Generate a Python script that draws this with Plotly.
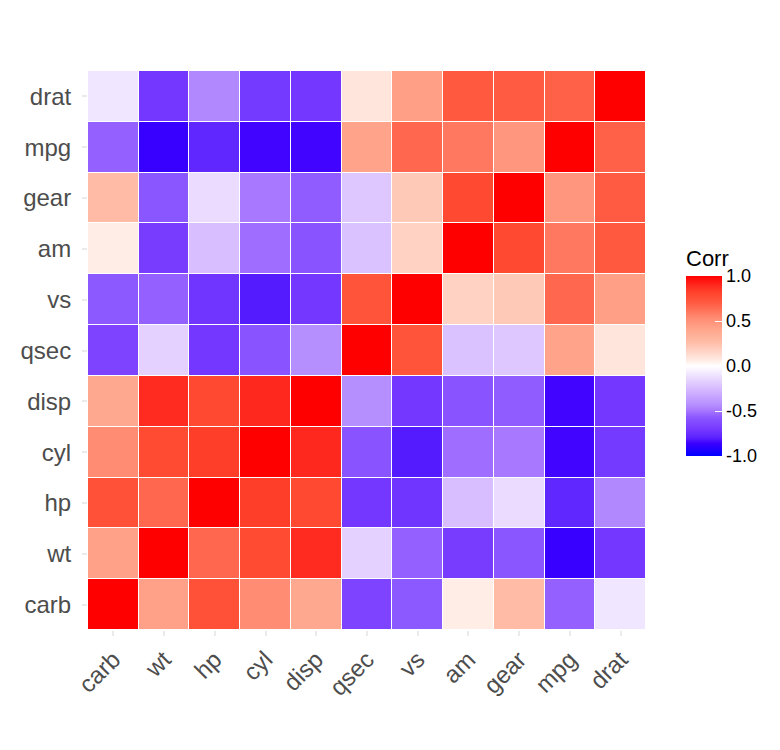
import plotly.graph_objects as go

variables = ["carb", "wt", "hp", "cyl", "disp", "qsec", "vs", "am", "gear", "mpg", "drat"]

carb = [1.00, 0.43, 0.75, 0.53, 0.39, -0.66, -0.57, 0.06, 0.27, -0.55, -0.09]
wt   = [0.43, 1.00, 0.66, 0.78, 0.89, -0.17, -0.55, -0.69, -0.58, -0.87, -0.71]
hp   = [0.75, 0.66, 1.00, 0.83, 0.79, -0.71, -0.72, -0.24, -0.13, -0.78, -0.45]
cyl  = [0.53, 0.78, 0.83, 1.00, 0.90, -0.59, -0.81, -0.52, -0.49, -0.85, -0.70]
disp = [0.39, 0.89, 0.79, 0.90, 1.00, -0.43, -0.71, -0.59, -0.56, -0.85, -0.71]
qsec = [-0.66, -0.17, -0.71, -0.59, -0.43, 1.00, 0.74, -0.23, -0.21, 0.42, 0.09]
vs   = [-0.57, -0.55, -0.72, -0.81, -0.71, 0.74, 1.00, 0.17, 0.21, 0.66, 0.44]
am   = [0.06, -0.69, -0.24, -0.52, -0.59, -0.23, 0.17, 1.00, 0.79, 0.60, 0.71]
gear = [0.27, -0.58, -0.13, -0.49, -0.56, -0.21, 0.21, 0.79, 1.00, 0.48, 0.70]
mpg  = [-0.55, -0.87, -0.78, -0.85, -0.85, 0.42, 0.66, 0.60, 0.48, 1.00, 0.68]
drat = [-0.09, -0.71, -0.45, -0.70, -0.71, 0.09, 0.44, 0.71, 0.70, 0.68, 1.00]

rows = [carb, wt, hp, cyl, disp, qsec, vs, am, gear, mpg, drat]

colorbar_ticks = [-1.0, -0.5, 0.0, 0.5, 1.0]
colorbar_labels = ["-1.0", "-0.5", "0.0", "0.5", "1.0"]

# colour stops (value -> colour), blue - white - red
scale_values = [-1.00, -0.86, -0.795, -0.69, -0.57, -0.505, -0.44, -0.22, -0.11, 0.00,
                0.075, 0.27, 0.41, 0.53, 0.705, 0.805, 0.90, 1.00]
scale_colors = ["rgb(0,0,255)", "rgb(60,0,255)", "rgb(92,35,255)", "rgb(120,60,255)",
                "rgb(140,88,255)", "rgb(165,115,255)", "rgb(180,140,255)", "rgb(220,195,255)",
                "rgb(238,225,255)", "rgb(255,255,255)", "rgb(255,232,224)", "rgb(255,187,165)",
                "rgb(255,165,140)", "rgb(255,140,115)", "rgb(255,90,65)", "rgb(255,70,45)",
                "rgb(255,40,30)", "rgb(255,0,0)"]
colorscale = [[(v + 1) / 2, c] for v, c in zip(scale_values, scale_colors)]

FONT = "Liberation Sans, Arial, sans-serif"

fig = go.Figure(go.Heatmap(
    z=rows,
    x=variables,
    y=variables,
    zmin=-1, zmax=1,
    colorscale=colorscale,
    xgap=1, ygap=1,
    hoverongaps=False,
    colorbar=dict(
        title=dict(text="Corr", side="top", font=dict(size=22, color="black", family=FONT)),
        tickvals=colorbar_ticks,
        ticktext=colorbar_labels,
        ticks="inside",
        ticklen=7,
        tickcolor="white",
        tickwidth=1,
        tickfont=dict(size=18, color="black", family=FONT),
        outlinewidth=0,
        thickness=36,
        lenmode="pixels",
        len=210,
        x=1.0717,
        xanchor="left",
        y=0.499,
        yanchor="middle",
        ypad=0,
        xpad=0,
    ),
))

fig.update_layout(
    width=780,
    height=750,
    margin=dict(l=80, r=142, t=63, b=128),
    paper_bgcolor="white",
    plot_bgcolor="white",
    font=dict(family=FONT),
    xaxis=dict(
        tickangle=-45,
        tickfont=dict(size=24, color="#4D4D4D", family=FONT),
        ticks="outside",
        ticklen=5,
        tickwidth=1.5,
        tickcolor="#EBEBEB",
        showgrid=False,
        zeroline=False,
        showline=False,
        range=[-0.5, 10.5],
    ),
    yaxis=dict(
        tickfont=dict(size=24, color="#4D4D4D", family=FONT),
        ticks="outside",
        ticklen=5,
        tickwidth=1.5,
        tickcolor="#EBEBEB",
        showgrid=False,
        zeroline=False,
        showline=False,
        range=[-0.5, 10.5],
        ticklabelstandoff=6,
    ),
)

fig.write_html("out.html")
